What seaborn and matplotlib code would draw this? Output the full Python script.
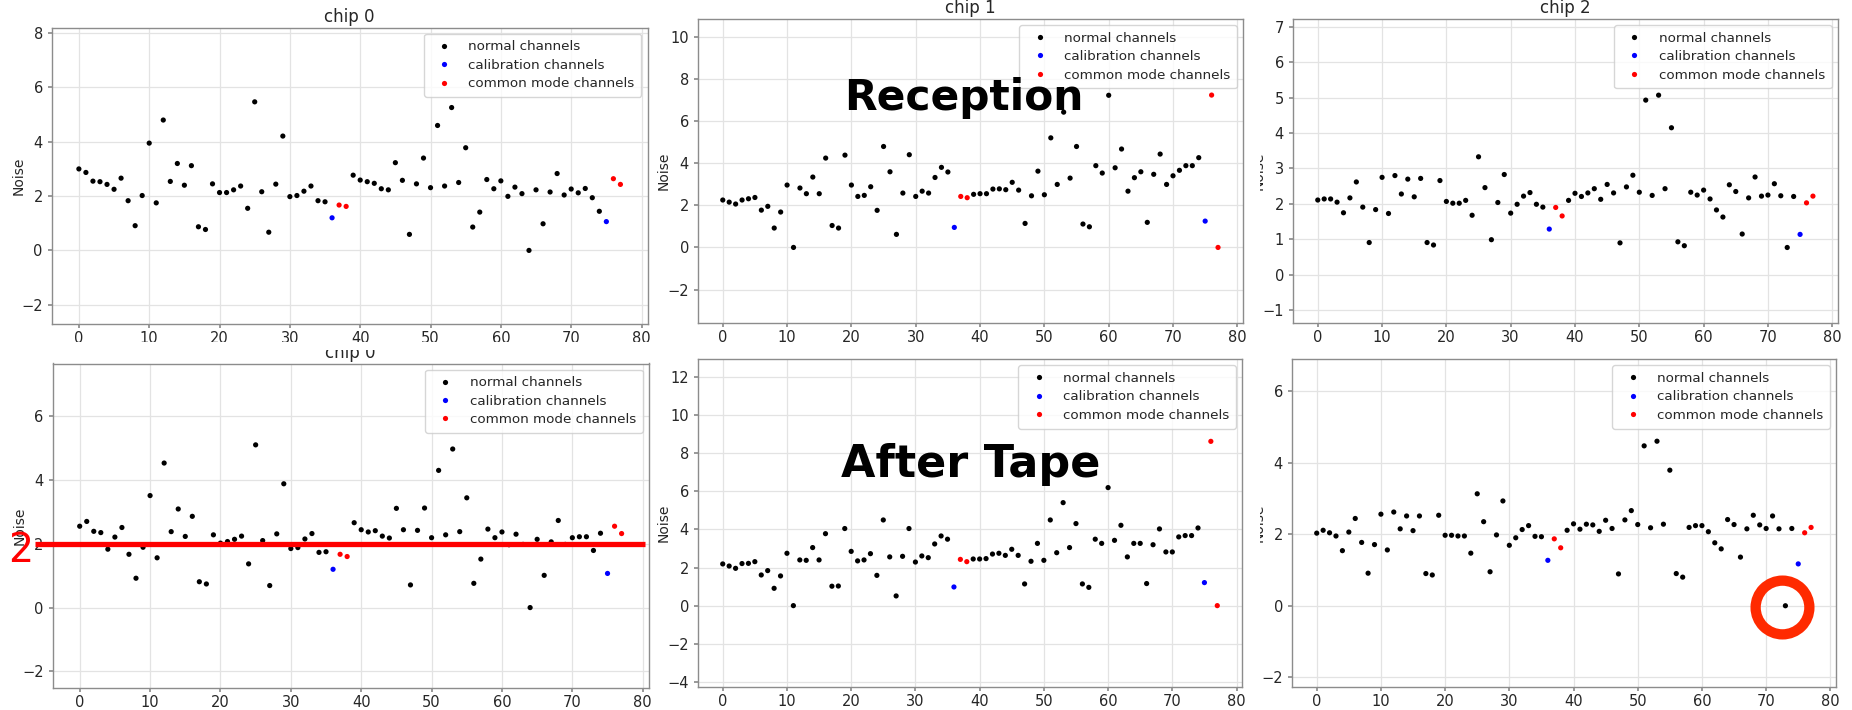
import numpy as np
import pandas as pd
import matplotlib
matplotlib.use("Agg")
import matplotlib.pyplot as plt
import matplotlib.transforms as mtransforms
from matplotlib.patches import Rectangle
import seaborn as sns

# ---------------- data ----------------
channels = list(range(78))
calibration_channels = [36, 75]
common_mode_channels = [37, 38, 76, 77]
type_labels = ["normal channels", "calibration channels", "common mode channels"]
type_colors = ["black", "blue", "red"]

reception_chip0 = [
    3.0, 2.87, 2.55, 2.53, 2.43, 2.25, 2.66, 1.83, 0.91, 2.02,
    3.95, 1.75, 4.8, 2.54, 3.2, 2.4, 3.12, 0.87, 0.77, 2.45,
    2.13, 2.13, 2.23, 2.37, 1.55, 5.47, 2.16, 0.67, 2.44, 4.21,
    1.98, 2.02, 2.18, 2.37, 1.83, 1.79, 1.2, 1.67, 1.62, 2.77,
    2.59, 2.53, 2.47, 2.27, 2.23, 3.23, 2.58, 0.59, 2.45, 3.4,
    2.31, 4.6, 2.37, 5.26, 2.5, 3.78, 0.86, 1.41, 2.61, 2.27,
    2.56, 1.99, 2.33, 2.09, 0.0, 2.23, 0.98, 2.15, 2.83, 2.04,
    2.26, 2.12, 2.28, 1.94, 1.44, 1.06, 2.64, 2.43]

reception_chip1 = [
    2.25, 2.15, 2.06, 2.25, 2.31, 2.37, 1.77, 1.95, 0.92, 1.68,
    2.96, 0.0, 2.82, 2.55, 3.34, 2.55, 4.24, 1.04, 0.92, 4.38,
    2.96, 2.42, 2.47, 2.88, 1.76, 4.79, 3.59, 0.62, 2.58, 4.4,
    2.42, 2.67, 2.58, 3.32, 3.8, 3.58, 0.95, 2.42, 2.36, 2.52,
    2.55, 2.55, 2.77, 2.78, 2.74, 3.09, 2.72, 1.14, 2.45, 3.62,
    2.5, 5.2, 2.99, 6.42, 3.29, 4.79, 1.11, 0.98, 3.88, 3.53,
    7.22, 3.78, 4.67, 2.67, 3.31, 3.59, 1.19, 3.47, 4.43, 2.99,
    3.4, 3.66, 3.88, 3.88, 4.26, 1.25, 7.23, 0.0]

reception_chip2 = [
    2.11, 2.14, 2.14, 2.05, 1.75, 2.17, 2.62, 1.91, 0.91, 1.84,
    2.75, 1.73, 2.8, 2.28, 2.7, 2.2, 2.72, 0.91, 0.84, 2.66,
    2.07, 2.02, 2.02, 2.1, 1.68, 3.33, 2.46, 0.99, 2.04, 2.83,
    1.74, 1.99, 2.22, 2.32, 1.99, 1.91, 1.29, 1.9, 1.66, 2.1,
    2.3, 2.21, 2.31, 2.43, 2.13, 2.55, 2.31, 0.9, 2.48, 2.81,
    2.33, 4.93, 2.24, 5.07, 2.43, 4.15, 0.93, 0.82, 2.33, 2.25,
    2.39, 2.14, 1.83, 1.63, 2.54, 2.35, 1.15, 2.17, 2.76, 2.22,
    2.25, 2.57, 2.23, 0.77, 2.21, 1.14, 2.03, 2.22]

tape_chip0 = [
    2.55, 2.7, 2.39, 2.35, 1.83, 2.21, 2.51, 1.67, 0.92, 1.89,
    3.51, 1.56, 4.53, 2.38, 3.09, 2.23, 2.86, 0.81, 0.74, 2.28,
    2.02, 2.07, 2.14, 2.24, 1.37, 5.1, 2.1, 0.69, 2.31, 3.88,
    1.85, 1.88, 2.15, 2.32, 1.73, 1.75, 1.2, 1.67, 1.6, 2.66,
    2.44, 2.37, 2.41, 2.24, 2.18, 3.11, 2.44, 0.71, 2.42, 3.12,
    2.19, 4.3, 2.28, 4.97, 2.38, 3.44, 0.76, 1.52, 2.46, 2.19,
    2.37, 1.97, 2.3, 1.98, 0.0, 2.14, 1.01, 2.06, 2.73, 1.98,
    2.19, 2.22, 2.22, 1.79, 2.33, 1.07, 2.55, 2.32]

tape_chip1 = [
    2.19, 2.08, 1.96, 2.21, 2.22, 2.31, 1.61, 1.84, 0.91, 1.56,
    2.75, 0.0, 2.4, 2.38, 3.05, 2.4, 3.78, 1.02, 1.03, 4.05,
    2.85, 2.35, 2.4, 2.73, 1.59, 4.5, 2.56, 0.51, 2.59, 4.05,
    2.29, 2.61, 2.52, 3.24, 3.66, 3.49, 0.98, 2.43, 2.31, 2.45,
    2.45, 2.47, 2.71, 2.75, 2.64, 2.96, 2.64, 1.14, 2.33, 3.27,
    2.38, 4.5, 2.78, 5.41, 3.05, 4.31, 1.14, 0.96, 3.49, 3.27,
    6.2, 3.43, 4.22, 2.56, 3.27, 3.27, 1.16, 3.2, 4.03, 2.82,
    2.82, 3.61, 3.68, 3.68, 4.08, 1.21, 8.63, 0.0]

tape_chip2 = [
    2.03, 2.11, 2.04, 1.95, 1.54, 2.06, 2.44, 1.77, 0.91, 1.71,
    2.56, 1.56, 2.62, 2.15, 2.51, 2.1, 2.51, 0.9, 0.86, 2.53,
    1.97, 1.97, 1.95, 1.95, 1.47, 3.13, 2.35, 0.95, 1.98, 2.93,
    1.69, 1.9, 2.13, 2.24, 1.94, 1.93, 1.27, 1.87, 1.62, 2.11,
    2.29, 2.14, 2.28, 2.26, 2.08, 2.39, 2.16, 0.89, 2.4, 2.66,
    2.27, 4.47, 2.18, 4.6, 2.28, 3.79, 0.9, 0.8, 2.19, 2.24,
    2.24, 2.07, 1.76, 1.59, 2.41, 2.27, 1.36, 2.15, 2.53, 2.26,
    2.16, 2.51, 2.15, 0.0, 2.16, 1.17, 2.04, 2.19]

panel_values = [reception_chip0, reception_chip1, reception_chip2,
                tape_chip0, tape_chip1, tape_chip2]
panel_titles = ["chip 0", "chip 1", "chip 2", "chip 0", None, None]
panel_ylims = [(-2.71, 8.2), (-3.6, 10.84), (-1.37, 7.22),
               (-2.53, 7.65), (-4.29, 12.94), (-2.28, 6.89)]
panel_yticks = [range(-2, 9, 2), range(-2, 11, 2), range(-1, 8, 1),
                range(-2, 7, 2), range(-4, 13, 2), range(-2, 7, 2)]
x_ticks = list(range(0, 81, 10))
threshold = 2
circled_channel = 73
row_labels = ["Reception", "After Tape"]

# ---------------- style ----------------
sns.set_theme(style="whitegrid")
plt.rcParams.update({
    "axes.edgecolor": "#8c8c8c",
    "axes.linewidth": 1.0,
    "grid.color": "#e3e3e3",
    "grid.linewidth": 0.9,
    "xtick.bottom": True,
    "ytick.left": True,
    "xtick.major.size": 3,
    "ytick.major.size": 3,
    "xtick.color": "#8c8c8c",
    "ytick.color": "#8c8c8c",
    "xtick.labelcolor": "#262626",
    "ytick.labelcolor": "#262626",
    "xtick.labelsize": 10.5,
    "ytick.labelsize": 10.5,
    "xtick.major.pad": 2,
    "axes.labelsize": 10,
})
plt.rcParams["font.family"] = ["DejaVu Sans"]

W, H = 1852, 710
fig = plt.figure(figsize=(W / 100, H / 100), dpi=100)


def px_rect(l, t, r, b):
    return [l / W, 1 - b / H, (r - l) / W, (b - t) / H]


rects = [px_rect(51.8, 27.7, 647.5, 324), px_rect(698, 19, 1242.8, 323.3),
         px_rect(1293, 19, 1837.7, 323.3), px_rect(52.6, 363.5, 648.7, 688.3),
         px_rect(698, 359.3, 1242, 687.3), px_rect(1292, 359.3, 1835.8, 687.3)]
label_x = [-0.0438, -0.0503, -0.0496, -0.043, -0.0503, -0.0478]

types = []
for c in channels:
    if c in calibration_channels:
        types.append(type_labels[1])
    elif c in common_mode_channels:
        types.append(type_labels[2])
    else:
        types.append(type_labels[0])

palette = dict(zip(type_labels, type_colors))
axes = []
for i, vals in enumerate(panel_values):
    ax = fig.add_axes(rects[i])
    df = pd.DataFrame({"channel": channels, "noise": vals, "type": types})
    sns.scatterplot(data=df, x="channel", y="noise", hue="type",
                    hue_order=type_labels, palette=palette, s=14,
                    linewidth=0, ax=ax, zorder=3)
    ax.set_xlim(-3.85, 80.85)
    ax.set_ylim(*panel_ylims[i])
    ax.set_xticks(x_ticks)
    ax.set_yticks(list(panel_yticks[i]))
    ax.set_xlabel("")
    ax.set_ylabel("Noise", color="#262626")
    ax.yaxis.set_label_coords(label_x[i], 0.5)
    if panel_titles[i]:
        ax.set_title(panel_titles[i], fontsize=12, color="#262626", pad=4)
    old = ax.get_legend()
    handles = old.legend_handles
    labels = [t.get_text() for t in old.texts]
    old.remove()
    ax.legend(handles, labels, loc="upper right", fontsize=9.7,
              labelspacing=0.4, borderpad=0.5, frameon=True, borderaxespad=0.45)
    axes.append(ax)

# threshold line with its label on the tape chip 0 panel
axes[3].axhline(threshold, xmin=-0.0295, xmax=0.9931, color="#ff0000",
                linewidth=3.8, clip_on=False, zorder=6, solid_capstyle="butt")
fig.text(21 / W, 1 - 561.7 / H, str(threshold), color="#ff0000", fontsize=28.5,
         ha="center", va="baseline", zorder=10)

# ring around the dead channel
ax6 = axes[5]
trans = mtransforms.offset_copy(ax6.transData, fig=fig, x=-3, y=-1, units="dots")
ax6.plot([circled_channel], [tape_chip2[circled_channel]], marker="o",
         markersize=38.7, markerfacecolor="none", markeredgecolor="#ff2a00",
         markeredgewidth=7.4, transform=trans, clip_on=False, zorder=7)

# row captions
fig.text(964 / W, 1 - 110 / H, row_labels[0], fontsize=30.5, fontweight="bold",
         color="black", ha="center", va="baseline", zorder=10)
fig.text(971 / W, 1 - 476.7 / H, row_labels[1], fontsize=32, fontweight="bold",
         color="black", ha="center", va="baseline", zorder=10)

# collage cuts
fig.add_artist(Rectangle((0, 1 - 350 / H), 650 / W, 8 / H, transform=fig.transFigure,
                         facecolor="white", edgecolor="none", zorder=1))
fig.add_artist(Rectangle((1246 / W, 0), 13.5 / W, 1, transform=fig.transFigure,
                         facecolor="white", edgecolor="none", zorder=1))

fig.savefig("out.png", dpi=100, facecolor="white")
